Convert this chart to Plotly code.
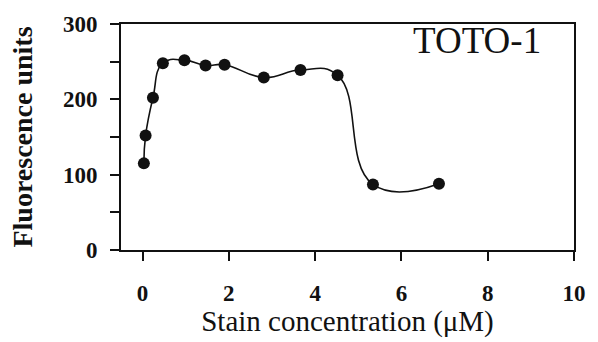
import plotly.graph_objects as go

# TOTO-1 fluorescence versus stain concentration
conc_um = [0.03, 0.07, 0.24, 0.47, 0.97, 1.46, 1.90, 2.81, 3.66, 4.52, 5.34, 6.87]
fluor_units = [115, 152, 202, 248, 252, 245, 246, 229, 239, 232, 87, 88]

y_tick_vals = [0, 50, 100, 150, 200, 250, 300]
y_tick_text = ["0", "", "100", "", "200", "", "300"]
x_tick_vals = [0, 2, 4, 6, 8, 10]

SERIF = "Liberation Serif, Times New Roman, serif"
INK = "#111111"

fig = go.Figure()
fig.add_trace(go.Scatter(
    x=conc_um, y=fluor_units,
    mode="lines+markers",
    line=dict(color=INK, width=1.6, shape="spline", smoothing=1.3),
    marker=dict(color=INK, size=12, symbol="circle"),
    showlegend=False,
    cliponaxis=False,
))

fig.add_annotation(
    x=7.76, y=278, xref="x", yref="y",
    text="TOTO-1", showarrow=False,
    font=dict(family=SERIF, size=37, color=INK),
)

axis_common = dict(
    showline=True, linecolor=INK, linewidth=1.8, mirror=True,
    ticks="outside", ticklen=9, tickwidth=1.6, tickcolor=INK,
    showgrid=False, zeroline=False,
)

fig.update_xaxes(
    range=[-0.5, 10], tickvals=x_tick_vals,
    tickfont=dict(family=SERIF, size=23, color=INK, weight="bold"),
    ticklabelstandoff=12,
    title=dict(text="Stain concentration (\u03bcM)", standoff=4,
               font=dict(family=SERIF, size=29, color=INK)),
    **axis_common,
)
fig.update_yaxes(
    range=[0, 300], tickvals=y_tick_vals, ticktext=y_tick_text,
    tickfont=dict(family=SERIF, size=23, color=INK, weight="bold"),
    ticklabelstandoff=8,
    title=dict(text="Fluorescence units", standoff=22,
               font=dict(family=SERIF, size=28, color=INK, weight="bold")),
    **axis_common,
)

fig.update_layout(
    width=598, height=342,
    margin=dict(l=121, r=17, t=15, b=89),
    paper_bgcolor="white", plot_bgcolor="white",
)

fig.write_html("out.html")
